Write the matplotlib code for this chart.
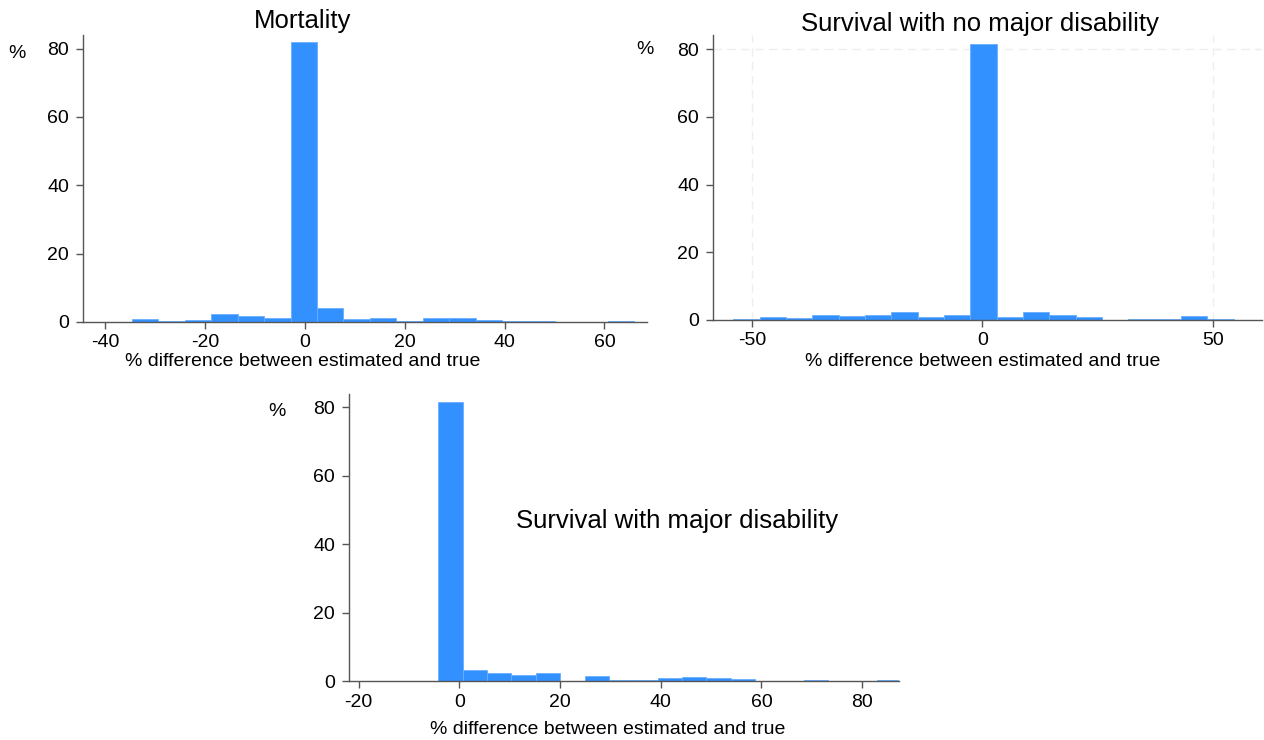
import numpy as np
import matplotlib.pyplot as plt

plt.rcParams['font.family'] = ['Liberation Sans', 'DejaVu Sans']
plt.rcParams['axes.unicode_minus'] = False

# --- histogram data (percent per bin) ---
mort_start, mort_width = -40.0, 5.3
mort_pct = [0.1, 1.0, 0.2, 0.7, 2.4, 1.7, 1.2, 82.0, 4.1, 1.0,
            1.3, 0.3, 1.3, 1.3, 0.7, 0.2, 0.2, 0.05, 0.05, 0.2]

nodis_start, nodis_width = -54.0, 5.71
nodis_pct = [0.2, 1.0, 0.7, 1.5, 1.2, 1.5, 2.3, 0.9, 1.4, 81.5,
             0.8, 2.4, 1.35, 0.8, 0.0, 0.15, 0.15, 1.1, 0.3, 0.05]

dis_start, dis_width = -9.0, 4.84
dis_pct = [0.1, 81.5, 3.3, 2.4, 1.8, 2.4, 0.05, 1.5, 0.2, 0.2,
           0.9, 1.2, 0.9, 0.6, 0.05, 0.05, 0.3, 0.05, 0.05, 0.3]

titles = ["Mortality", "Survival with no major disability", "Survival with major disability"]
xlabel = "% difference between estimated and true"

BAR = '#3391ff'
EDGE = '#6aafff'
AXC = '#555555'
TICK_FS = 14
LAB_FS = 14
TITLE_FS = 18.5

fig = plt.figure(figsize=(12.64, 7.4), dpi=100)

# axes rectangles in figure fractions (left, bottom, width, height)
ax1 = fig.add_axes([0.0657, 0.5649, 0.4460, 0.3878])
ax2 = fig.add_axes([0.5641, 0.5676, 0.4343, 0.3851])
ax3 = fig.add_axes([0.2761, 0.0797, 0.4351, 0.3874])


def draw(ax, start, width, pct, xlim, ylim, xticks):
    edges = start + width * np.arange(len(pct) + 1)
    ax.bar(edges[:-1], pct, width=width, align='edge', color=BAR,
           edgecolor=EDGE, linewidth=0.6, zorder=2)
    ax.set_xlim(*xlim)
    ax.set_ylim(*ylim)
    ax.set_xticks(xticks)
    ax.set_yticks([0, 20, 40, 60, 80])
    for s in ['top', 'right']:
        ax.spines[s].set_visible(False)
    for s in ['left', 'bottom']:
        ax.spines[s].set_color(AXC)
        ax.spines[s].set_linewidth(1.0)
    ax.tick_params(axis='both', colors=AXC, labelcolor='black',
                   labelsize=TICK_FS, length=5, width=1.0)
    ax.tick_params(axis='x', pad=4)
    ax.tick_params(axis='y', pad=5)


draw(ax1, mort_start, mort_width, mort_pct, (-44.5, 68.5), (0, 84), [-40, -20, 0, 20, 40, 60])
draw(ax2, nodis_start, nodis_width, nodis_pct, (-58.4, 60.6), (0, 84.2), [-50, 0, 50])
draw(ax3, dis_start, dis_width, dis_pct, (-21.9, 87.3), (0, 83.8), [-20, 0, 20, 40, 60, 80])

# faint dashed grid remnants in the second panel
for xv in [-50, 50]:
    ax2.axvline(xv, color='#eeeeee', linestyle=(0, (6, 4)), linewidth=1.0, zorder=0)
ax2.axhline(80, color='#eeeeee', linestyle=(0, (6, 4)), linewidth=1.0, zorder=0)

# titles
fig.text(303 / 1264, 1 - 21 / 740, titles[0], ha='center', va='center', fontsize=TITLE_FS)
fig.text(980 / 1264, 1 - 24 / 740, titles[1], ha='center', va='center', fontsize=TITLE_FS)
fig.text(677 / 1264, 1 - 521 / 740, titles[2], ha='center', va='center', fontsize=TITLE_FS)

# x labels
fig.text(303 / 1264, 1 - 362 / 740, xlabel, ha='center', va='center', fontsize=LAB_FS)
fig.text(983 / 1264, 1 - 361 / 740, xlabel, ha='center', va='center', fontsize=LAB_FS)
fig.text(608 / 1264, 1 - 729 / 740, xlabel, ha='center', va='center', fontsize=LAB_FS)

# y labels
fig.text(17 / 1264, 1 - 54 / 740, "%", ha='center', va='center', fontsize=LAB_FS)
fig.text(645 / 1264, 1 - 50 / 740, "%", ha='center', va='center', fontsize=LAB_FS)
fig.text(277 / 1264, 1 - 411 / 740, "%", ha='center', va='center', fontsize=LAB_FS)

fig.savefig("out.png", dpi=100)
